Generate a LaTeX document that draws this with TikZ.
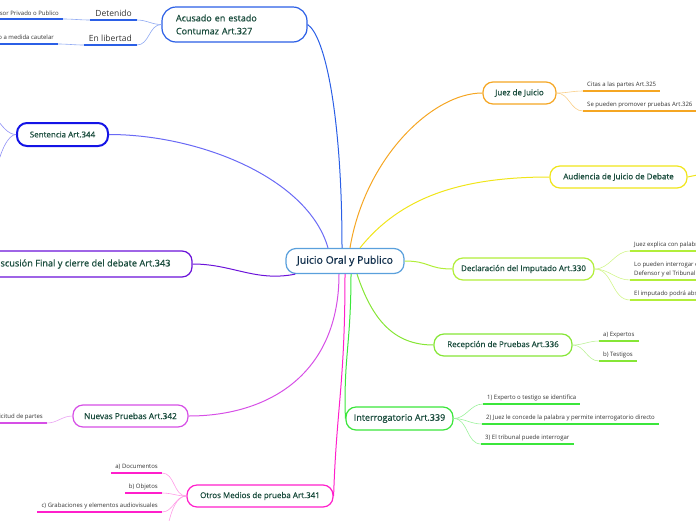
\documentclass[tikz,border=0pt]{standalone}
\usepackage{fontspec}
\setmainfont{Open Sans}
\newfontfamily\topicfont{Open Sans}[FakeBold=0.7]
\begin{document}
\begin{tikzpicture}[x=1pt,y=-1pt,
    topic/.style={draw, rounded corners=10pt, line width=1.2pt, fill=white, text=mytext,
        font=\topicfont\fontsize{8}{10}\selectfont, minimum height=22pt, inner sep=2pt},
    leaf/.style={inner xsep=4pt, inner ysep=3pt, text=myleaf, font=\fontsize{6}{9}\selectfont},
    bigleaf/.style={leaf, inner xsep=5pt, font=\fontsize{8.5}{10}\selectfont},
    branch/.style={line width=1pt},
    twig/.style={line width=0.6pt},
    uline/.style={line width=1.6pt}]
    \definecolor{myhub}{HTML}{5AA0DC}
    \definecolor{myhubtext}{HTML}{0F2D4A}
    \definecolor{mytext}{HTML}{1B4D3E}
    \definecolor{myleaf}{HTML}{333333}
    \definecolor{myblue}{HTML}{2B5FE6}
    \definecolor{mylightblue}{HTML}{8FA9F2}
    \definecolor{myviolet}{HTML}{1414E6}
    \definecolor{mysentline}{HTML}{6A6AF5}
    \definecolor{mylightviolet}{HTML}{9090F5}
    \definecolor{mypurple}{HTML}{6B12D9}
    \definecolor{myorchid}{HTML}{D64FE6}
    \definecolor{mylightorchid}{HTML}{E9A0F2}
    \definecolor{mymagenta}{HTML}{FF1FCB}
    \definecolor{mylightmagenta}{HTML}{FF9BE6}
    \definecolor{myorange}{HTML}{F5A623}
    \definecolor{mylightorange}{HTML}{F9CF8A}
    \definecolor{myyellow}{HTML}{F0E51A}
    \definecolor{mylime}{HTML}{B2EE3A}
    \definecolor{mylightlime}{HTML}{D2F58C}
    \definecolor{mygreen}{HTML}{86E636}
    \definecolor{mylightgreen}{HTML}{BDF29A}
    \definecolor{mybright}{HTML}{3BE63B}
    \definecolor{mylightbright}{HTML}{9CF29C}

    \useasboundingbox (0,0) rectangle (696,520);
    \clip (0,0) rectangle (696,520);

    % main topics
    \node[topic, draw=myhub, minimum width=118pt, minimum height=25pt, text=myhubtext,
        font=\topicfont\fontsize{10.5}{12}\selectfont] (juicio) at (345,261) {Juicio Oral y Publico};
    \node[topic, draw=myblue, rounded corners=14pt, minimum height=35pt, text width=117pt,
        inner xsep=14pt, align=left, font=\topicfont\fontsize{9}{13}\selectfont] (acusado) at (234.5,24.5) {Acusado en estado\\Contumaz Art.327};
    \node[topic, draw=myviolet, line width=2pt, minimum width=91pt, minimum height=23pt] (sentencia) at (62.5,134.5) {Sentencia Art.344};
    \node[topic, draw=mypurple, minimum width=222pt, minimum height=26pt,
        font=\topicfont\fontsize{9.2}{11}\selectfont] (discusion) at (81,264) {Discusión Final y cierre del debate Art.343};
    \node[topic, draw=myorchid, minimum width=115pt, font=\topicfont\fontsize{8.3}{10}\selectfont] (nuevas) at (130.5,416) {Nuevas Pruebas Art.342};
    \node[topic, draw=mymagenta, minimum width=146pt] (otros) at (260,496) {Otros Medios de prueba Art.341};
    \node[topic, draw=myorange, minimum width=73pt] (juez) at (519.5,93) {Juez de Juicio};
    \node[topic, draw=myyellow, minimum width=137pt] (audiencia) at (618.5,177) {Audiencia de Juicio de Debate};
    \node[topic, draw=mylime, minimum width=141pt] (declaracion) at (523.5,269) {Declaración del Imputado Art.330};
    \node[topic, draw=mygreen, minimum width=138pt] (recepcion) at (503,345) {Recepción de Pruebas Art.336};
    \node[topic, draw=mybright, minimum width=107pt, minimum height=23pt,
        font=\topicfont\fontsize{9}{11}\selectfont] (interrogatorio) at (399.5,418.5) {Interrogatorio Art.339};

    % branches from the hub
    \draw[branch, myblue] ([xshift=-3pt]juicio.north) .. controls +(0,-130) and +(18,12) .. (acusado.east);
    \draw[branch, mysentline] ([xshift=-17pt]juicio.north) .. controls +(-20,-70) and +(90,0) .. (sentencia.east);
    \draw[branch, myorange] ([xshift=5pt]juicio.north) .. controls +(15,-90) and +(-50,0) .. (juez.west);
    \draw[branch, myyellow] ([xshift=15pt]juicio.north) .. controls +(40,-50) and +(-90,0) .. (audiencia.west);
    \draw[branch, mylime] (juicio.east) .. controls +(25,0) and +(-25,0) .. (declaracion.west);
    \draw[branch, mygreen] ([xshift=12pt]juicio.south) .. controls +(15,45) and +(-40,0) .. (recepcion.west);
    \draw[branch, mybright] ([xshift=6pt]juicio.south) .. controls +(0,70) and +(-2,-60) .. (interrogatorio.west);
    \draw[branch, myorchid] ([xshift=-6pt]juicio.south) .. controls +(0,100) and +(80,0) .. (nuevas.east);
    \draw[branch, mymagenta] (juicio.south) .. controls +(0,110) and +(3,-90) .. (otros.east);
    \draw[branch, mypurple] ([xshift=10pt]juicio.south west) .. controls +(-40,8) and +(40,0) .. (discusion.east);

    % leaves, left side
    \node[bigleaf, anchor=south east] (detenido) at (137,20) {Detenido};
    \node[bigleaf, anchor=south east] (libertad) at (137,45) {En libertad};
    \node[leaf, anchor=south east] (defensor) at (63,19) {Defensor Privado o Publico};
    \node[leaf, anchor=south east] (cautelar) at (58,44) {Sujeto a medida cautelar};
    \node[leaf, anchor=south east] (solicitud) at (47,423) {A solicitud de partes};
    \node[leaf, anchor=south east] (documentos) at (162,473) {a) Documentos};
    \node[leaf, anchor=south east] (objetos) at (162,493) {b) Objetos};
    \node[leaf, anchor=south east] (grabaciones) at (162,512) {c) Grabaciones y elementos audiovisuales};

    % leaves, right side
    \node[leaf, anchor=south west] (citas) at (583,91) {Citas a las partes Art.325};
    \node[leaf, anchor=south west] (promover) at (583,111) {Se pueden promover pruebas Art.326};
    \node[leaf, anchor=south west] (explica) at (630,251) {Juez explica con palabras claras};
    \node[leaf, anchor=south west, align=left] (interrogar) at (630,280) {Lo pueden interrogar el Fiscal,\\Defensor y el Tribunal};
    \node[leaf, anchor=south west] (abstenerse) at (630,300) {El imputado podrá abstenerse};
    \node[leaf, anchor=south west] (expertos) at (599,341) {a) Expertos};
    \node[leaf, anchor=south west] (testigos) at (599,361) {b) Testigos};
    \node[leaf, anchor=south west] (identifica) at (483,404) {1) Experto o testigo se identifica};
    \node[leaf, anchor=south west] (palabra) at (482,424) {2) Juez le concede la palabra y permite interrogatorio directo};
    \node[leaf, anchor=south west] (tribunal) at (481,444) {3) El tribunal puede interrogar};

    \coordinate (sentup) at (-4,118);
    \coordinate (sentdown) at (-4,172);
    \coordinate (audout) at (702,174);
    \coordinate (otrosout) at (168,526);

    % twigs
    \foreach \b in {detenido, libertad}
        \draw[twig, mylightblue] (acusado.west) to[out=180,in=0] (\b.south east);
    \foreach \a/\b in {detenido/defensor, libertad/cautelar}
        \draw[twig, mylightblue] (\a.south west) to[out=180,in=0] (\b.south east);
    \draw[twig, mylightviolet] (sentencia.west) .. controls +(-8,0) and +(6,8) .. (sentup);
    \draw[twig, mylightviolet] (sentencia.west) .. controls +(-8,0) and +(4,-20) .. (sentdown);
    \draw[twig, mylightorchid] (nuevas.west) to[out=180,in=0] (solicitud.south east);
    \foreach \b in {documentos, objetos, grabaciones}
        \draw[twig, mylightmagenta] (otros.west) to[out=180,in=0] (\b.south east);
    \draw[twig, mylightmagenta] (otros.west) .. controls +(-10,0) and +(3,-15) .. (otrosout);
    \foreach \b in {citas, promover}
        \draw[twig, mylightorange] (juez.east) to[out=0,in=180] (\b.south west);
    \draw[branch, myyellow] (audiencia.east) -- (audout);
    \foreach \b in {explica, interrogar, abstenerse}
        \draw[twig, mylightlime] (declaracion.east) to[out=0,in=180] (\b.south west);
    \foreach \b in {expertos, testigos}
        \draw[twig, mylightgreen] (recepcion.east) to[out=0,in=180] (\b.south west);
    \foreach \b in {identifica, palabra, tribunal}
        \draw[twig, mylightbright] (interrogatorio.east) to[out=0,in=180] (\b.south west);

    % underlines
    \foreach \n/\c in {detenido/myblue, libertad/myblue, defensor/myblue, cautelar/myblue,
        solicitud/myorchid, documentos/mymagenta, objetos/mymagenta, grabaciones/mymagenta,
        citas/myorange, promover/myorange, explica/mylime, interrogar/mylime, abstenerse/mylime,
        expertos/mygreen, testigos/mygreen, identifica/mybright, palabra/mybright, tribunal/mybright}
        \draw[uline, \c] (\n.south west) -- (\n.south east);
\end{tikzpicture}
\end{document}
